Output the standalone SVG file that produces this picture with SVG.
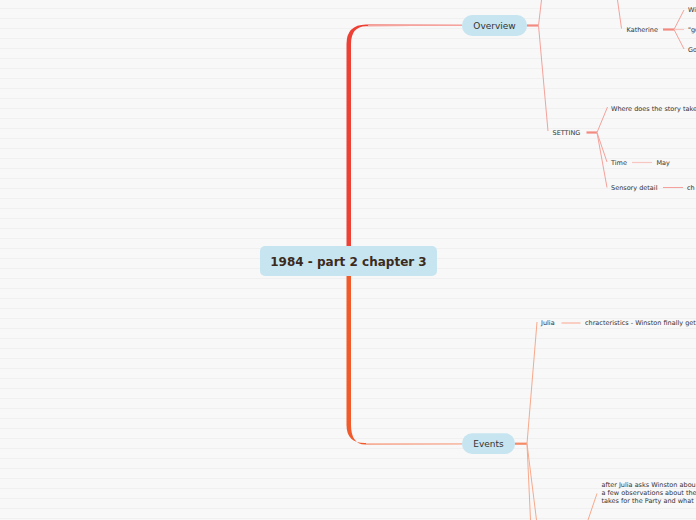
<svg xmlns="http://www.w3.org/2000/svg" width="696" height="520" viewBox="0 0 696 520">
<defs>
<pattern id="bg" x="0" y="0" width="10" height="10" patternUnits="userSpaceOnUse">
<rect width="10" height="10" fill="#f8f8f8"/>
<rect y="8" width="10" height="1" fill="#f0f0f0"/>
</pattern>
</defs>
<style>
.node{fill:#c7e5f0;}
.t{font-family:"DejaVu Sans",Verdana,sans-serif;fill:#333333;}
.s{font-size:6.5px;}
.m{font-size:9px;}
.b{font-size:12px;font-weight:bold;fill:#3b2a1e;}
.lr{stroke:#f4a29b;stroke-width:1;fill:none;}
.lrt{stroke:#f28a80;stroke-width:2.2;fill:none;}
.lrl{stroke:#f8c6c0;stroke-width:1.2;fill:none;}
.lo{stroke:#f7a98c;stroke-width:1;fill:none;}
.lot{stroke:#f48a66;stroke-width:2.2;fill:none;}
.lol{stroke:#f8c2b0;stroke-width:1.5;fill:none;}
</style>
<rect width="696" height="520" fill="url(#bg)"/>
<g id="connectors">
<path d="M346.5,250 L346.5,44 Q346.5,25 366,24.6 L462,24.8 L462,25.8 L366,26.2 Q351,26.5 351,44 L351,250 Z" fill="#ee4136"/>
<line x1="368" y1="25.5" x2="462" y2="25.5" stroke="#f5a39c" stroke-width="1"/>
<path d="M346.5,270 L346.5,425 Q346.5,443 365,443 L462,443.2 L462,444.2 L365,444.6 Q351,444 351,425 L351,270 Z" fill="#f15a2b"/>
<line x1="366" y1="443.7" x2="462" y2="443.7" stroke="#f8c0ac" stroke-width="1.2"/>
<line class="lrt" x1="527" y1="25.5" x2="538.5" y2="25.5"/>
<line class="lr" x1="538.5" y1="25.5" x2="541.5" y2="0"/>
<line class="lr" x1="538.5" y1="25.5" x2="548" y2="131"/>
<line class="lr" x1="617.5" y1="0" x2="621.5" y2="28.5"/>
<line class="lrt" x1="663" y1="29.5" x2="674" y2="29.5"/>
<line class="lr" x1="674" y1="29.5" x2="684" y2="10"/>
<line class="lrl" x1="674" y1="29.5" x2="684" y2="29.5"/>
<line class="lr" x1="674" y1="29.5" x2="684" y2="49"/>
<line class="lrt" x1="586.5" y1="132.5" x2="597" y2="132.5"/>
<line class="lr" x1="597" y1="132.5" x2="607.5" y2="107"/>
<line class="lr" x1="597" y1="132.5" x2="607" y2="162"/>
<line class="lr" x1="597" y1="132.5" x2="607" y2="187.5"/>
<line class="lrl" x1="632" y1="162.5" x2="652" y2="162.5"/>
<line class="lr" x1="663" y1="187.5" x2="683" y2="187.5"/>
<line class="lot" x1="515" y1="443.7" x2="527" y2="443.7"/>
<line class="lo" x1="527" y1="443.7" x2="537" y2="322"/>
<line class="lo" x1="527" y1="443.7" x2="530.5" y2="520"/>
<line class="lo" x1="527" y1="443.7" x2="536.5" y2="520"/>
<line class="lol" x1="561.5" y1="323" x2="580.5" y2="323"/>
<line class="lo" x1="597" y1="493.5" x2="588" y2="520"/>
</g>
<g id="center">
<rect class="node" x="260" y="246" width="177" height="30" rx="5"/>
<text class="t b" x="348.5" y="266" text-anchor="middle">1984 - part 2 chapter 3</text>
</g>
<g id="overview">
<rect class="node" x="462" y="15" width="65" height="21" rx="10"/>
<text class="t m" x="494.5" y="28.8" text-anchor="middle">Overview</text>
</g>
<g id="events">
<rect class="node" x="462" y="433.3" width="53" height="20.7" rx="10"/>
<text class="t m" x="488.5" y="447" text-anchor="middle">Events</text>
</g>
<g id="katherine"><text class="t s" x="626.5" y="31.8">Katherine</text></g>
<g id="k1"><text class="t s" x="688" y="11.5">Wi</text></g>
<g id="k2"><text class="t s" x="688" y="32">"go</text></g>
<g id="k3"><text class="t s" x="688" y="52">Go</text></g>
<g id="setting"><text class="t s" x="552.5" y="135">SETTING</text></g>
<g id="where"><text class="t s" x="611" y="110.5">Where does the story take</text></g>
<g id="time"><text class="t s" x="611" y="164.8">Time</text></g>
<g id="may"><text class="t s" x="656.5" y="164.8">May</text></g>
<g id="sensory"><text class="t s" x="611" y="190">Sensory detail</text></g>
<g id="sensory-ch"><text class="t s" x="687" y="190">ch</text></g>
<g id="julia"><text class="t s" x="541" y="325">Julia</text></g>
<g id="julia-char"><text class="t s" x="585" y="325">chracteristics - Winston finally get</text></g>
<g id="after">
<text class="t s" x="601.5" y="487">after Julia asks Winston abou</text>
<text class="t s" x="601.5" y="495">a few observations about the</text>
<text class="t s" x="601.5" y="503">takes for the Party and what</text>
</g>
</svg>
